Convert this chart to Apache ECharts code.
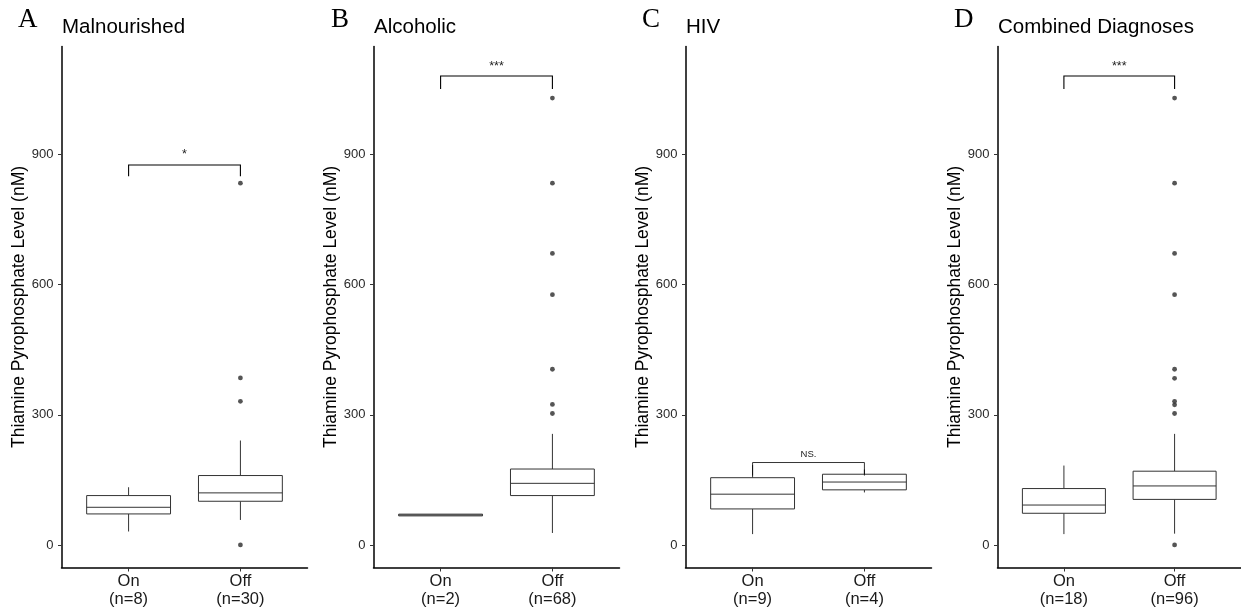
<!DOCTYPE html>
<html>
<head>
<meta charset="utf-8">
<script src="https://cdn.jsdelivr.net/npm/echarts@6/dist/echarts.min.js"></script>
<style>
html,body{margin:0;padding:0;background:#fff;}
#chart{width:1241px;height:613px;}
</style>
</head>
<body>
<div id="chart"></div>
<script>
// ---- data ----
const categories = ['On', 'Off'];
const panelLetters = ['A', 'B', 'C', 'D'];
const panelTitles = ['Malnourished', 'Alcoholic', 'HIV', 'Combined Diagnoses'];
const groupCounts = [[8, 30], [2, 68], [9, 4], [18, 96]];
const yTicks = [0, 300, 600, 900];
// box stats: [min, q1, median, q3, max] for On, Off
const boxMalnourished = [[31, 71.5, 86.8, 113.8, 133], [57.6, 100.7, 120, 160, 240.7]];
const boxAlcoholic = [[67, 67, 69, 71, 71], [27.6, 113.8, 142, 175, 256]];
const boxHIV = [[25, 83, 117, 155, 184], [121, 127, 145, 163, 174]];
const boxCombined = [[25, 73, 92, 130, 183], [26, 105, 136, 170, 256]];
// outliers (Off group)
const outMalnourished = [0, 331, 385, 834];
const outAlcoholic = [303, 324, 405, 577, 672, 834, 1030];
const outHIV = [];
const outCombined = [0, 303, 323, 331, 384, 405, 577, 672, 834, 1030];
// significance brackets: [tipBottom, top, labelY]
const bracketMalnourished = [850, 876, 906];
const bracketAlcoholic = [1051, 1081, 1110];
const bracketHIV = [160, 190, 209];
const bracketCombined = [1051, 1081, 1110];
const sigLabels = ['*', '***', 'NS.', '***'];

const boxes = [boxMalnourished, boxAlcoholic, boxHIV, boxCombined];
const outliers = [outMalnourished, outAlcoholic, outHIV, outCombined];
const brackets = [bracketMalnourished, bracketAlcoholic, bracketHIV, bracketCombined];

// ---- layout ----
const gridLefts = [61.5, 373.5, 685.5, 997.5];
const gridWidth = 246;
const gridTop = 46.5;
const gridHeight = 521;
const letterX = [18, 331, 642, 954];

const chart = echarts.init(document.getElementById('chart'), null, {renderer: 'canvas'});

const grids = [], xAxes = [], yAxes = [], series = [], graphics = [];
const LINE = '#333333';
const SANS = 'Liberation Sans, Arial, sans-serif';

for (let i = 0; i < 4; i++) {
  grids.push({left: gridLefts[i], top: gridTop, width: gridWidth, height: gridHeight, containLabel: false});
  xAxes.push({
    type: 'value', gridIndex: i, min: 0.4, max: 2.6,
    splitLine: {show: false},
    axisLine: {show: true, onZero: false, lineStyle: {color: '#000', width: 1.5}},
    axisTick: {show: true, length: 4, customValues: [1, 2], lineStyle: {color: '#333', width: 1}},
    axisLabel: {
      show: true, customValues: [1, 2], margin: 5,
      fontFamily: SANS, fontSize: 16.5, lineHeight: 18, color: '#1a1a1a',
      formatter: (v) => {
        const k = Math.round(v) - 1;
        return categories[k] + '\n(n=' + groupCounts[i][k] + ')';
      }
    }
  });
  yAxes.push({
    type: 'value', gridIndex: i, min: -52, max: 1149,
    splitLine: {show: false},
    axisLine: {show: true, onZero: false, lineStyle: {color: '#000', width: 1.5}},
    axisTick: {show: true, length: 3.5, customValues: yTicks, lineStyle: {color: '#333', width: 1}},
    axisLabel: {show: true, customValues: yTicks, margin: 8,
      fontFamily: SANS, fontSize: 13, color: '#2a2a2a'},
    name: 'Thiamine Pyrophosphate Level (nM)',
    nameLocation: 'middle', nameGap: 33,
    nameTextStyle: {fontFamily: SANS, fontSize: 17.5, color: '#000'}
  });

  // box plots
  series.push({
    type: 'custom', xAxisIndex: i, yAxisIndex: i,
    encode: {x: 0, y: [1, 2, 3, 4, 5]},
    data: boxes[i].map((s, k) => [k + 1].concat(s)),
    renderItem: function (params, api) {
      const x = api.value(0);
      const w = api.size([0.75, 0])[0];
      const pMin = api.coord([x, api.value(1)]);
      const pQ1 = api.coord([x, api.value(2)]);
      const pMed = api.coord([x, api.value(3)]);
      const pQ3 = api.coord([x, api.value(4)]);
      const pMax = api.coord([x, api.value(5)]);
      const cx = pMed[0];
      const st = {stroke: LINE, lineWidth: 1, fill: null};
      return {
        type: 'group',
        children: [
          {type: 'line', shape: {x1: cx, y1: pQ3[1], x2: cx, y2: pMax[1]}, style: st},
          {type: 'line', shape: {x1: cx, y1: pQ1[1], x2: cx, y2: pMin[1]}, style: st},
          {type: 'rect', shape: {x: cx - w / 2, y: pQ3[1], width: w, height: pQ1[1] - pQ3[1]},
            style: {stroke: LINE, lineWidth: 1, fill: '#fff'}},
          {type: 'line', shape: {x1: cx - w / 2, y1: pMed[1], x2: cx + w / 2, y2: pMed[1]}, style: st}
        ]
      };
    },
    z: 2
  });

  // outliers
  series.push({
    type: 'scatter', xAxisIndex: i, yAxisIndex: i,
    data: outliers[i].map(v => [2, v]),
    symbol: 'circle', symbolSize: 4.8,
    itemStyle: {color: '#2a2a2a'},
    z: 3
  });

  // bracket
  series.push({
    type: 'custom', xAxisIndex: i, yAxisIndex: i,
    encode: {x: [0, 1], y: [2, 3, 4]},
    data: [[1, 2].concat(brackets[i])],
    renderItem: (function (idx) {
      return function (params, api) {
        const x1 = api.value(0), x2 = api.value(1);
        const tip = api.value(2), top = api.value(3), ly = api.value(4);
        const p1 = api.coord([x1, tip]), p2 = api.coord([x1, top]);
        const p3 = api.coord([x2, top]), p4 = api.coord([x2, tip]);
        const pt = api.coord([(x1 + x2) / 2, ly]);
        const isNS = sigLabels[idx] === 'NS.';
        return {
          type: 'group',
          children: [
            {type: 'polyline', shape: {points: [p1, p2, p3, p4]}, style: {stroke: '#000', lineWidth: isNS ? 0.8 : 1.1, fill: null}},
            {type: 'text', x: pt[0], y: pt[1] + (isNS ? 0 : 3),
              style: {text: sigLabels[idx], fontFamily: SANS,
                fontSize: isNS ? 9.5 : 12.5, fill: '#222', align: 'center', verticalAlign: 'middle'}}
          ]
        };
      };
    })(i),
    z: 4
  });

  graphics.push({
    type: 'text', left: letterX[i], top: 6,
    style: {text: panelLetters[i], fontFamily: 'Liberation Serif, Times New Roman, serif', fontSize: 27, fill: '#000'}
  });
  graphics.push({
    type: 'text', left: gridLefts[i] + 0.5, top: 17,
    style: {text: panelTitles[i], fontFamily: SANS, fontSize: 20.5, fill: '#000'}
  });
}

chart.setOption({
  backgroundColor: '#fff',
  animation: false,
  grid: grids,
  xAxis: xAxes,
  yAxis: yAxes,
  series: series,
  graphic: graphics
});
</script>
</body>
</html>
